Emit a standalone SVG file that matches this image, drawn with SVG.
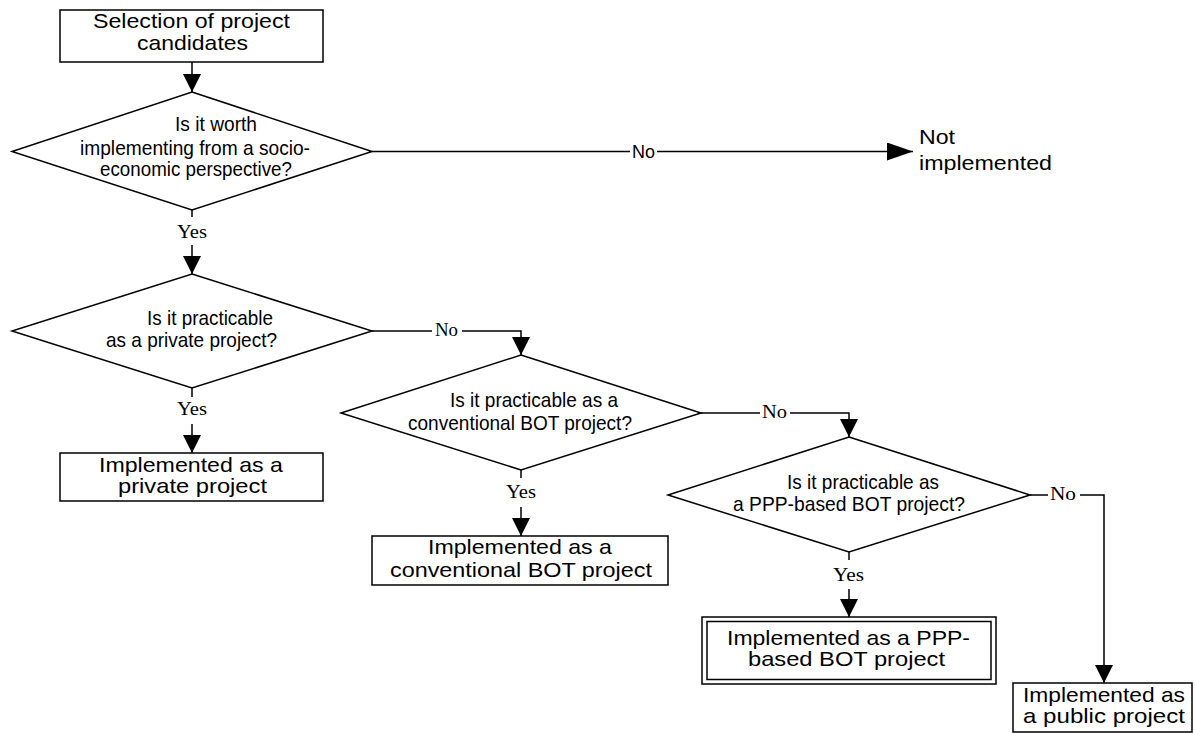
<svg xmlns="http://www.w3.org/2000/svg" width="1195" height="733" viewBox="0 0 1195 733">
<style>
.box{fill:#fff;stroke:#000;stroke-width:1.5}
.dia{fill:#fff;stroke:#000;stroke-width:1.5}
.ln{fill:none;stroke:#000;stroke-width:1.5}
.t{font-family:"Liberation Sans",Arial,sans-serif;font-size:21px;fill:#000}
.q{font-family:"Liberation Sans Narrow","Arial Narrow","Liberation Sans",sans-serif;font-size:21px;fill:#000}
.y{font-family:"Liberation Serif","Times New Roman",serif;font-size:18px;fill:#000}
.n{font-family:"Liberation Sans",Arial,sans-serif;font-size:18px;fill:#000}
</style>
<defs>
<marker id="ah" markerUnits="userSpaceOnUse" markerWidth="20" markerHeight="20" refX="18" refY="9" orient="auto"><path d="M0,0 L18,9 L0,18 z" fill="#000"/></marker>
<marker id="ahl" markerUnits="userSpaceOnUse" markerWidth="28" markerHeight="20" refX="26" refY="9" orient="auto"><path d="M0,0 L26,9 L0,18 z" fill="#000"/></marker>
</defs>

<g id="connectors">
<line class="ln" x1="192" y1="62" x2="192" y2="92" marker-end="url(#ah)"/>
<line class="ln" x1="372" y1="151.5" x2="630" y2="151.5"/>
<text class="n" x="632" y="157.5" textLength="23" lengthAdjust="spacingAndGlyphs">No</text>
<line class="ln" x1="657" y1="151.5" x2="913" y2="151.5" marker-end="url(#ahl)"/>
<line class="ln" x1="192" y1="210" x2="192" y2="217"/>
<text class="y" x="177" y="238" textLength="30" lengthAdjust="spacingAndGlyphs">Yes</text>
<line class="ln" x1="192" y1="245" x2="192" y2="274" marker-end="url(#ah)"/>
<line class="ln" x1="372" y1="331" x2="432" y2="331"/>
<text class="y" x="435" y="335.5" textLength="23" lengthAdjust="spacingAndGlyphs">No</text>
<path class="ln" d="M462,331 H521 V355" marker-end="url(#ah)"/>
<line class="ln" x1="192" y1="388" x2="192" y2="397"/>
<text class="y" x="177" y="415" textLength="30" lengthAdjust="spacingAndGlyphs">Yes</text>
<line class="ln" x1="192" y1="424" x2="192" y2="453" marker-end="url(#ah)"/>
<line class="ln" x1="700" y1="413" x2="760" y2="413"/>
<text class="y" x="762" y="417.5" textLength="25" lengthAdjust="spacingAndGlyphs">No</text>
<path class="ln" d="M790,413 H849 V437" marker-end="url(#ah)"/>
<line class="ln" x1="521" y1="470" x2="521" y2="478"/>
<text class="y" x="506" y="498" textLength="30" lengthAdjust="spacingAndGlyphs">Yes</text>
<line class="ln" x1="521" y1="507" x2="521" y2="536" marker-end="url(#ah)"/>
<line class="ln" x1="1030" y1="495" x2="1048" y2="495"/>
<text class="y" x="1050" y="499.5" textLength="26" lengthAdjust="spacingAndGlyphs">No</text>
<path class="ln" d="M1080,495 H1104 V683" marker-end="url(#ah)"/>
<line class="ln" x1="849" y1="552" x2="849" y2="560"/>
<text class="y" x="833" y="581" textLength="31" lengthAdjust="spacingAndGlyphs">Yes</text>
<line class="ln" x1="849" y1="589" x2="849" y2="617" marker-end="url(#ah)"/>
</g>

<g id="n1">
<rect class="box" x="60" y="10" width="263" height="52"/>
<text class="t" x="93" y="28" textLength="197" lengthAdjust="spacingAndGlyphs">Selection of project</text>
<text class="t" x="137" y="50" textLength="111" lengthAdjust="spacingAndGlyphs">candidates</text>
</g>

<g id="d1">
<polygon class="dia" points="192,92 372,151.5 192,210 12,151.5"/>
<text class="q" x="175" y="131" textLength="82" lengthAdjust="spacingAndGlyphs">Is it worth</text>
<text class="q" x="80" y="155" textLength="230" lengthAdjust="spacingAndGlyphs">implementing from a socio-</text>
<text class="q" x="100" y="176" textLength="192" lengthAdjust="spacingAndGlyphs">economic perspective?</text>
</g>

<g id="n-not">
<text class="t" x="919" y="144" textLength="36" lengthAdjust="spacingAndGlyphs">Not</text>
<text class="t" x="919" y="170" textLength="133" lengthAdjust="spacingAndGlyphs">implemented</text>
</g>

<g id="d2">
<polygon class="dia" points="192,274 372,331 192,388 12,331"/>
<text class="q" x="147" y="325" textLength="126" lengthAdjust="spacingAndGlyphs">Is it practicable</text>
<text class="q" x="106" y="347" textLength="171" lengthAdjust="spacingAndGlyphs">as a private project?</text>
</g>

<g id="n2">
<rect class="box" x="60" y="453" width="263" height="48"/>
<text class="t" x="99" y="472" textLength="184" lengthAdjust="spacingAndGlyphs">Implemented as a</text>
<text class="t" x="118" y="493" textLength="149" lengthAdjust="spacingAndGlyphs">private project</text>
</g>

<g id="d3">
<polygon class="dia" points="521,355 701,413 521,470 341,413"/>
<text class="q" x="450" y="407" textLength="168" lengthAdjust="spacingAndGlyphs">Is it practicable as a</text>
<text class="q" x="408" y="430" textLength="224" lengthAdjust="spacingAndGlyphs">conventional BOT project?</text>
</g>

<g id="n3">
<rect class="box" x="372" y="536" width="296" height="49"/>
<text class="t" x="428" y="554" textLength="184" lengthAdjust="spacingAndGlyphs">Implemented as a</text>
<text class="t" x="390" y="577" textLength="262" lengthAdjust="spacingAndGlyphs">conventional BOT project</text>
</g>

<g id="d4">
<polygon class="dia" points="849,437 1030,495 849,552 668,495"/>
<text class="q" x="787" y="489" textLength="152" lengthAdjust="spacingAndGlyphs">Is it practicable as</text>
<text class="q" x="733" y="511" textLength="232" lengthAdjust="spacingAndGlyphs">a PPP-based BOT project?</text>
</g>

<g id="n4">
<rect class="box" x="702" y="617" width="294" height="67"/>
<rect class="box" x="707" y="621.5" width="284" height="58"/>
<text class="t" x="727" y="645" textLength="243" lengthAdjust="spacingAndGlyphs">Implemented as a PPP-</text>
<text class="t" x="748" y="666" textLength="197" lengthAdjust="spacingAndGlyphs">based BOT project</text>
</g>

<g id="n5">
<rect class="box" x="1013" y="683" width="179" height="49"/>
<text class="t" x="1023" y="702" textLength="162" lengthAdjust="spacingAndGlyphs">Implemented as</text>
<text class="t" x="1023" y="723" textLength="162" lengthAdjust="spacingAndGlyphs">a public project</text>
</g>
</svg>
